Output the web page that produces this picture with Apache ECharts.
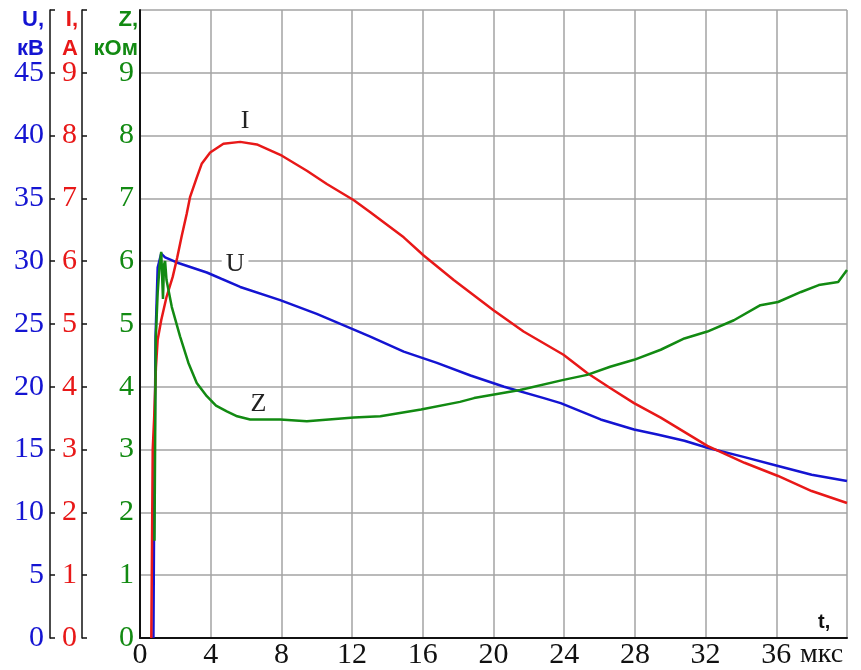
<!DOCTYPE html>
<html>
<head>
<meta charset="utf-8">
<script src="https://cdn.jsdelivr.net/npm/echarts@6/dist/echarts.min.js"></script>
<style>html,body{margin:0;padding:0;background:#fff;}#c{width:861px;height:670px;}</style>
</head>
<body>
<div id="c"></div>
<script>
// time ticks (мкс)
const tTicks = [0, 4, 8, 12, 16, 20, 24, 28, 32, 36];
// U, кВ : [t, U]
const uData = [[0.76,0],[0.8,10],[0.88,24],[1.0,29.5],[1.2,30.6],[1.42,30.3],[2.08,29.9],[3.78,29.1],[5.67,27.95],[7.93,26.9],[10,25.8],[12.2,24.5],[13.03,24.0],[14.92,22.8],[16.8,21.9],[18.7,20.9],[20.6,20.0],[22.85,19.1],[23.8,18.7],[26.06,17.4],[27.95,16.6],[29.27,16.2],[30.8,15.7],[32.1,15.15],[34.2,14.4],[36.1,13.7],[38,13.0],[40,12.5]];
// I, A : [t, I]
const iData = [[0.64,0],[0.68,1.5],[0.72,3.0],[0.8,3.5],[0.9,4.3],[1.0,4.75],[1.2,5.06],[1.5,5.43],[1.85,5.75],[2.1,6.05],[2.36,6.4],[2.64,6.75],[2.83,7.02],[3.21,7.33],[3.49,7.55],[3.97,7.73],[4.72,7.87],[5.67,7.9],[6.61,7.86],[8.03,7.68],[9.44,7.44],[10.57,7.23],[12.1,6.97],[13.03,6.78],[14.92,6.38],[16.05,6.09],[17.75,5.7],[20.0,5.22],[21.7,4.88],[23.96,4.51],[25.3,4.22],[26.6,3.98],[27.95,3.74],[29.46,3.51],[32.1,3.06],[34.2,2.79],[36.1,2.58],[38,2.34],[40,2.15]];
// Z, кОм : [t, Z]
const zData = [[0.82,1.55],[0.86,3.3],[0.89,4.75],[1.0,5.5],[1.1,5.9],[1.2,6.15],[1.3,5.4],[1.36,5.95],[1.42,6.0],[1.5,5.7],[1.8,5.27],[2.27,4.8],[2.74,4.38],[3.21,4.06],[3.78,3.85],[4.3,3.7],[4.91,3.61],[5.5,3.53],[6.23,3.48],[7.93,3.48],[9.44,3.45],[12.1,3.51],[13.6,3.53],[15.9,3.64],[18.1,3.76],[18.9,3.82],[21.5,3.95],[23.96,4.11],[25.3,4.19],[26.6,4.32],[27.95,4.43],[29.46,4.59],[30.8,4.77],[32.1,4.88],[33.6,5.06],[35.1,5.30],[36.1,5.35],[37.4,5.51],[38.4,5.62],[39.5,5.67],[40,5.86]];
// curve label positions [t, value]
const labelI = [5.95, 8.23];
const labelU = [5.38, 29.75];
const labelZ = [6.7, 3.73];

const BLUE = '#1414d2', RED = '#e81818', GREEN = '#128a12';
const serif = '"Liberation Serif", "DejaVu Serif", serif';
const sans = '"Liberation Sans", Arial, sans-serif';

const chart = echarts.init(document.getElementById('c'), null, {renderer: 'canvas'});

function curveLabel(txt, coord, bg) {
  return {
    symbol: 'circle', symbolSize: 1, silent: true,
    itemStyle: {color: 'rgba(0,0,0,0)'},
    label: {show: true, position: 'inside', formatter: txt, color: '#222', fontFamily: serif, fontSize: 26,
            backgroundColor: bg || 'transparent', padding: [0, 4]},
    data: [{coord: coord}]
  };
}

chart.setOption({
  animation: false,
  backgroundColor: '#fff',
  grid: {left: 140, right: 14, top: 10, bottom: 30, containLabel: false},
  xAxis: {
    type: 'value', min: 0, max: 40, interval: 4,
    axisLine: {show: true, lineStyle: {color: '#111', width: 2}},
    axisTick: {show: false},
    axisLabel: {margin: 2, color: '#111', fontFamily: serif, fontSize: 30,
      formatter: v => tTicks.indexOf(v) >= 0 ? String(v) : ''},
    splitLine: {show: true, lineStyle: {color: '#a3a3a3', width: 1.5}}
  },
  yAxis: [
    { // Z axis (plot edge)
      type: 'value', min: 0, max: 10, interval: 1, position: 'left', offset: 0,
      axisLine: {show: true, onZero: false, lineStyle: {color: '#111', width: 2}},
      axisTick: {show: false},
      axisLabel: {margin: 6, color: GREEN, fontFamily: serif, fontSize: 30, formatter: v => v === 10 ? '' : String(v)},
      splitLine: {show: true, lineStyle: {color: '#a3a3a3', width: 1.5}}
    },
    { // I axis
      type: 'value', min: 0, max: 10, interval: 1, position: 'left', offset: 58,
      axisLine: {show: true, onZero: false, lineStyle: {color: '#111', width: 1.5}},
      axisTick: {show: true, inside: true, length: 5, lineStyle: {color: '#111', width: 1.5}},
      axisLabel: {margin: 5, color: RED, fontFamily: serif, fontSize: 30, formatter: v => v === 10 ? '' : String(v)},
      splitLine: {show: false}
    },
    { // U axis
      type: 'value', min: 0, max: 50, interval: 5, position: 'left', offset: 90,
      axisLine: {show: true, onZero: false, lineStyle: {color: '#111', width: 1.5}},
      axisTick: {show: true, inside: true, length: 5, lineStyle: {color: '#111', width: 1.5}},
      axisLabel: {margin: 6, color: BLUE, fontFamily: serif, fontSize: 30, formatter: v => v === 50 ? '' : String(v)},
      splitLine: {show: false}
    }
  ],
  series: [
    {name: 'U', type: 'line', yAxisIndex: 2, data: uData, showSymbol: false, lineStyle: {color: BLUE, width: 2.5}, itemStyle: {color: BLUE},
     markPoint: curveLabel('U', labelU, '#fff')},
    {name: 'I', type: 'line', yAxisIndex: 1, data: iData, showSymbol: false, lineStyle: {color: RED, width: 2.5}, itemStyle: {color: RED},
     markPoint: curveLabel('I', labelI)},
    {name: 'Z', type: 'line', yAxisIndex: 0, data: zData, showSymbol: false, lineStyle: {color: GREEN, width: 2.5}, itemStyle: {color: GREEN},
     markPoint: curveLabel('Z', labelZ)}
  ],
  graphic: [
    {type: 'text', right: 861 - 44, top: 5, style: {text: 'U,\nкВ', fill: BLUE, font: 'bold 22px ' + sans, lineHeight: 29, textAlign: 'right'}},
    {type: 'text', right: 861 - 78, top: 5, style: {text: 'I,\nA', fill: RED, font: 'bold 22px ' + sans, lineHeight: 29, textAlign: 'right'}},
    {type: 'text', right: 861 - 138, top: 5, style: {text: 'Z,\nкОм', fill: GREEN, font: 'bold 22px ' + sans, lineHeight: 29, textAlign: 'right'}},
    {type: 'text', left: 818, top: 612, style: {text: 't,', fill: '#111', font: 'bold 20px ' + sans}},
    {type: 'text', left: 800, top: 641, style: {text: 'мкс', fill: '#111', font: '28px ' + serif}}
  ]
});
</script>
</body>
</html>
